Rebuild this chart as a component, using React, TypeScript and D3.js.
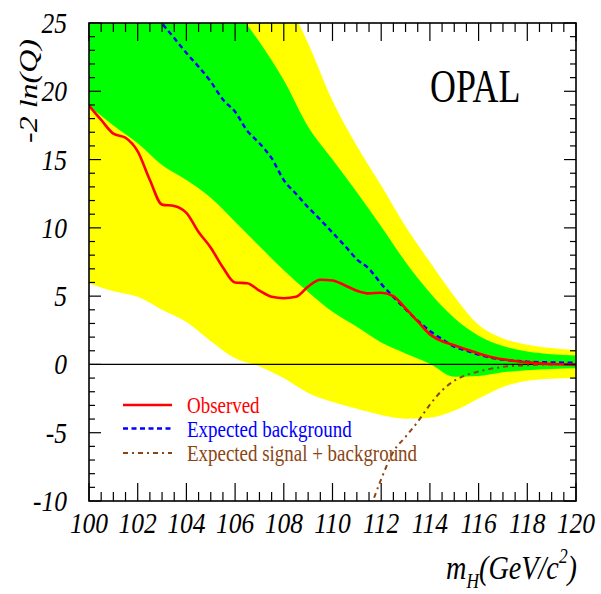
import React from "react";
import * as d3 from "d3";

// Higgs mass hypotheses (GeV/c^2) on which the expectation bands are sampled
const bandMass = d3.range(100, 121, 1);
// ±2σ band (yellow)
const yellowUpper = [48, 45, 42, 39, 36, 33.5, 31, 28.8, 27.0, 23.5, 19.3, 16.0, 13.1, 10.1, 7.5, 5.0, 2.9, 1.9, 1.45, 1.2, 1.05];
const yellowLower = [5.94, 5.35, 4.95, 4.0, 3.1, 1.7, 0.45, -0.15, -1.0, -2.1, -2.75, -3.25, -3.7, -3.97, -3.9, -3.4, -2.5, -1.65, -1.2, -1.05, -1.0];
// ±1σ band (green)
const greenUpper = [42, 39, 36, 33, 30.3, 28.0, 26.0, 23.6, 20.8, 17.4, 15.0, 12.6, 10.1, 7.5, 5.25, 3.4, 2.1, 1.35, 0.95, 0.75, 0.65];
const greenLower = [18.95, 17.5, 16.2, 14.6, 13.5, 12.2, 10.45, 8.65, 6.9, 5.3, 3.85, 2.75, 1.6, 0.8, 0.05, -0.9, -0.85, -0.58, -0.42, -0.33, -0.28];

// Observed -2 ln(Q)
const obsMass = d3.range(100, 120.01, 0.5);
const observed = [
  18.95, 17.9, 16.9, 16.6, 15.6, 13.5, 11.7, 11.6, 11.1, 9.7,
  8.55, 7.1, 6.0, 5.95, 5.4, 4.95, 4.85, 4.95, 5.7, 6.2,
  6.15, 5.8, 5.4, 5.2, 5.25, 5.0, 4.1, 3.15, 2.2, 1.7,
  1.4, 1.1, 0.8, 0.55, 0.38, 0.25, 0.15, 0.08, 0.03, 0.0, -0.03,
];

// Expected for background only
const bkgMass = [102.5, 103, 103.5, 104, 104.5, 105, 105.5, 106, 106.5, 107, 107.5, 108, 108.5, 109, 109.5, 110, 110.5, 111, 111.5, 112, 112.5, 113, 113.5, 114, 114.5, 115, 115.5, 116, 116.5, 117, 117.5, 118, 119, 120];
const expectedBkg = [26.5, 25, 23.9, 22.8, 21.8, 20.7, 19.4, 18.5, 17.1, 16.2, 15.1, 13.5, 12.5, 11.5, 10.6, 9.65, 8.7, 7.7, 7.0, 5.9, 4.95, 4.05, 3.2, 2.45, 1.85, 1.3, 1.0, 0.72, 0.5, 0.35, 0.27, 0.2, 0.15, 0.12];

// Expected for signal + background
const sbMass = [111.5, 112, 112.5, 113, 113.5, 114, 114.5, 115, 115.5, 116, 116.5, 117, 118, 119, 120];
const expectedSB = [-10.8, -8.4, -6.4, -5.3, -4.2, -2.95, -1.9, -1.2, -0.78, -0.52, -0.32, -0.18, -0.06, 0.0, 0.02];

const xMajor = d3.range(100, 121, 2);
const yMajor = d3.range(-10, 26, 5);

const legendItems = [
  { label: "Observed", color: "#ff0000", dash: "none", width: 2.6 },
  { label: "Expected background", color: "#0000ff", dash: "5,3.5", width: 2.4 },
  { label: "Expected signal + background", color: "#8b4513", dash: "5,4,2,4", width: 2 },
];

const FONT = "'Liberation Serif', 'Times New Roman', serif";

export default function App() {
  const W = 601, H = 594;
  const L = 89, R = 576, T = 23, B = 501;
  const x = d3.scaleLinear().domain([100, 120]).range([L, R]);
  const y = d3.scaleLinear().domain([-10, 25]).range([B, T]);

  const band = (lo: number[], hi: number[]) =>
    d3.area<number>()
      .x((_, i) => x(bandMass[i]))
      .y0((_, i) => y(lo[i]))
      .y1((_, i) => y(hi[i]))
      .curve(d3.curveMonotoneX)(bandMass) || "";

  const line = (xs: number[], ys: number[]) =>
    d3.line<number>()
      .x((_, i) => x(xs[i]))
      .y((v) => y(v))
      .curve(d3.curveMonotoneX)(ys) || "";

  const xMinor = d3.range(100, 120.01, 0.5);
  const yMinor = d3.range(-10, 25.01, 1);

  return (
    <svg width={W} height={H} style={{ position: "absolute", left: 0, top: 0, display: "block", background: "#fff" }}>
      <defs>
        <clipPath id="plot">
          <rect x={L} y={T} width={R - L} height={B - T} />
        </clipPath>
      </defs>

      <g clipPath="url(#plot)">
        <path d={band(yellowLower, yellowUpper)} fill="#ffff00" />
        <path d={band(greenLower, greenUpper)} fill="#00ff00" />
        <line x1={L} x2={R} y1={y(0)} y2={y(0)} stroke="#000" strokeWidth={1.3} />
        <path d={line(sbMass, expectedSB)} fill="none" stroke="#8b4513" strokeWidth={2} strokeDasharray="5,4,2,4" />
        <path d={line(bkgMass, expectedBkg)} fill="none" stroke="#0000ff" strokeWidth={2.4} strokeDasharray="5,3.5" />
        <path d={line(obsMass, observed)} fill="none" stroke="#ff0000" strokeWidth={2.6} />
      </g>

      {/* frame */}
      <rect x={L} y={T} width={R - L} height={B - T} fill="none" stroke="#000" strokeWidth={1.6} />

      {/* x ticks, bottom and top */}
      {xMinor.map((v) => {
        const major = Math.abs(v % 2) < 1e-6;
        const len = major ? 18 : 9;
        return (
          <g key={"xt" + v} stroke="#000" strokeWidth={1.2}>
            <line x1={x(v)} x2={x(v)} y1={B} y2={B - len} />
            <line x1={x(v)} x2={x(v)} y1={T} y2={T + len} />
          </g>
        );
      })}
      {/* y ticks, left and right */}
      {yMinor.map((v) => {
        const major = Math.abs(v % 5) < 1e-6;
        const len = major ? 12 : 6;
        return (
          <g key={"yt" + v} stroke="#000" strokeWidth={1.2}>
            <line x1={L} x2={L + len} y1={y(v)} y2={y(v)} />
            <line x1={R} x2={R - len} y1={y(v)} y2={y(v)} />
          </g>
        );
      })}

      {/* tick labels */}
      {xMajor.map((v) => (
        <text key={"xl" + v} transform={`translate(${x(v)},533) scale(0.85,1)`} textAnchor="middle"
          fontFamily={FONT} fontStyle="italic" fontSize={30} fill="#000">{v}</text>
      ))}
      {yMajor.map((v) => (
        <text key={"yl" + v} transform={`translate(67,${y(v) + 10}) scale(0.85,1)`} textAnchor="end"
          fontFamily={FONT} fontStyle="italic" fontSize={30} fill="#000">{v}</text>
      ))}

      {/* axis titles */}
      <text transform="translate(37,143) rotate(-90) scale(1,0.8)" textAnchor="start"
        fontFamily={FONT} fontStyle="italic" fontSize={32} fill="#000">-2 ln(Q)</text>
      <text transform="translate(577,579) scale(0.83,1)" textAnchor="end"
        fontFamily={FONT} fontStyle="italic" fontSize={34} fill="#000">
        <tspan>m</tspan>
        <tspan fontSize={21} dy={9}>H</tspan>
        <tspan dy={-9}>(GeV/c</tspan>
        <tspan fontSize={21} dy={-16}>2</tspan>
        <tspan dy={16}>)</tspan>
      </text>

      {/* experiment label */}
      <text transform="translate(430,102) scale(0.78,1)" fontFamily={FONT} fontSize={46} fill="#000">OPAL</text>

      {/* legend */}
      {legendItems.map((it, i) => {
        const ly = [405, 428.5, 453][i];
        const ty = [413, 437, 461][i];
        return (
          <g key={it.label}>
            <line x1={123} x2={172} y1={ly} y2={ly} stroke={it.color} strokeWidth={it.width}
              strokeDasharray={it.dash} />
            <text transform={`translate(187,${ty}) scale(0.79,1)`} fontFamily={FONT} fontSize={24}
              fill={it.color}>{it.label}</text>
          </g>
        );
      })}
    </svg>
  );
}
